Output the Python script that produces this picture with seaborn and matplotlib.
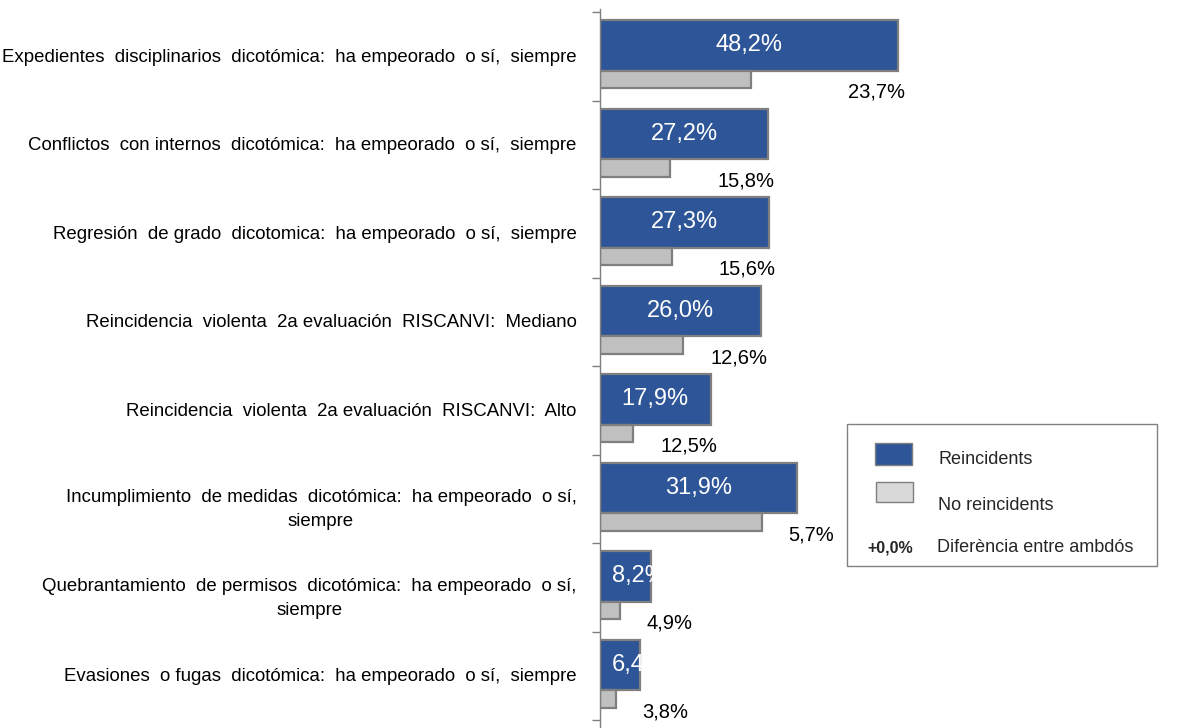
import pandas as pd
import matplotlib.pyplot as plt
import matplotlib.patches as mpatches
import seaborn as sns

# Data
categories = [
    "Expedientes  disciplinarios  dicotómica:  ha empeorado  o sí,  siempre",
    "Conflictos  con internos  dicotómica:  ha empeorado  o sí,  siempre",
    "Regresión  de grado  dicotomica:  ha empeorado  o sí,  siempre",
    "Reincidencia  violenta  2a evaluación  RISCANVI:  Mediano",
    "Reincidencia  violenta  2a evaluación  RISCANVI:  Alto",
    "Incumplimiento  de medidas  dicotómica:  ha empeorado  o sí,\nsiempre",
    "Quebrantamiento  de permisos  dicotómica:  ha empeorado  o sí,\nsiempre",
    "Evasiones  o fugas  dicotómica:  ha empeorado  o sí,  siempre",
]
reincidents = [48.2, 27.2, 27.3, 26.0, 17.9, 31.9, 8.2, 6.4]
no_reincidents = [24.5, 11.4, 11.7, 13.4, 5.4, 26.2, 3.3, 2.6]
difference = [23.7, 15.8, 15.6, 12.6, 12.5, 5.7, 4.9, 3.8]

BLUE = "#2E5597"
GRAY = "#C0C0C0"
EDGE = "#7F7F7F"

sns.set_style("white")
plt.rcParams['font.family'] = ['Liberation Sans', 'DejaVu Sans']

idx = list(range(len(categories)))
df = pd.DataFrame({
    "reincidents": reincidents,
    "no_reincidents": no_reincidents,
    "pos_blue": [i + 0.378 for i in idx],
    "pos_gray": [i + 0.762 for i in idx],
})

fig = plt.figure(figsize=(12.02, 7.28), dpi=100)
ax = fig.add_axes([600 / 1202, 0, 60 * 6.18 / 1202, 716 / 728])

sns.barplot(data=df, x="reincidents", y="pos_blue", orient="y", native_scale=True,
            width=0.575, color=BLUE, edgecolor=EDGE, linewidth=1.6, errorbar=None,
            saturation=1, ax=ax)
n_blue = len(ax.patches)
sns.barplot(data=df, x="no_reincidents", y="pos_gray", orient="y", native_scale=True,
            width=0.195, color=GRAY, edgecolor=EDGE, linewidth=1.6, errorbar=None,
            saturation=1, ax=ax)
blue_bars = ax.patches[:n_blue]

ax.set_xlim(0, 60)
ax.set_ylim(8.09, 0)
ax.set_xlabel("")
ax.set_ylabel("")
ax.set_xticks([])

# category labels near centre, tick marks at boundaries
ax.set_yticks([i + (0.56 if "\n" in c else 0.49) for i, c in zip(idx, categories)])
ax.set_yticklabels(categories, fontsize=13.4, ma="center", color="black")
for lbl in ax.get_yticklabels():
    lbl.set_linespacing(1.55)
ax.tick_params(axis="y", which="major", length=0, pad=17)
ax.set_yticks(list(range(len(categories) + 1)), minor=True)
ax.tick_params(axis="y", which="minor", left=True, length=6, color=EDGE, width=1)

for side in ["top", "right", "bottom"]:
    ax.spines[side].set_visible(False)
ax.spines["left"].set_color(EDGE)
ax.spines["left"].set_linewidth(1)
ax.spines["left"].set_bounds(-0.03, 8.09)

# value labels
for i, bar in zip(idx, blue_bars):
    v = reincidents[i]
    lab = f"{v:.1f}%".replace(".", ",")
    if v < 10:
        t = ax.text(1.9, i + 0.378, lab, color="white", fontsize=17,
                    ha="left", va="center")
        t.set_clip_path(bar)
    else:
        ax.text(v / 2, i + 0.378, lab, color="white", fontsize=17,
                ha="center", va="center")
    d = difference[i]
    xpos = max(v - 3.5, no_reincidents[i] + 8)
    ax.text(xpos, i + 0.905, f"{d:.1f}%".replace(".", ","), color="black",
            fontsize=14.5, ha="center", va="center", clip_on=False)

# legend drawn by hand
W, H = 1202, 728
def fx(x):
    return x / W
def fy(y):
    return 1 - y / H

fig.add_artist(mpatches.Rectangle((fx(847), fy(566)), fx(1157) - fx(847), fy(424) - fy(566),
                                  transform=fig.transFigure, fill=False, edgecolor="#808080",
                                  linewidth=1))
fig.add_artist(mpatches.Rectangle((fx(875), fy(465)), fx(912) - fx(875), fy(443) - fy(465),
                                  transform=fig.transFigure, facecolor=BLUE, edgecolor=EDGE,
                                  linewidth=1))
fig.add_artist(mpatches.Rectangle((fx(876), fy(502)), fx(913) - fx(876), fy(482) - fy(502),
                                  transform=fig.transFigure, facecolor="#D9D9D9", edgecolor=EDGE,
                                  linewidth=1))
fig.text(fx(938), fy(460), "Reincidents", fontsize=13, va="center", ha="left")
fig.text(fx(938), fy(505), "No reincidents", fontsize=13, va="center", ha="left")
fig.text(fx(867), fy(548), "+0,0%", fontsize=11.5, fontweight="bold", va="center", ha="left")
fig.text(fx(937), fy(548), "Diferència entre ambdós", fontsize=13, va="center", ha="left")

fig.savefig("out.png", dpi=100)
